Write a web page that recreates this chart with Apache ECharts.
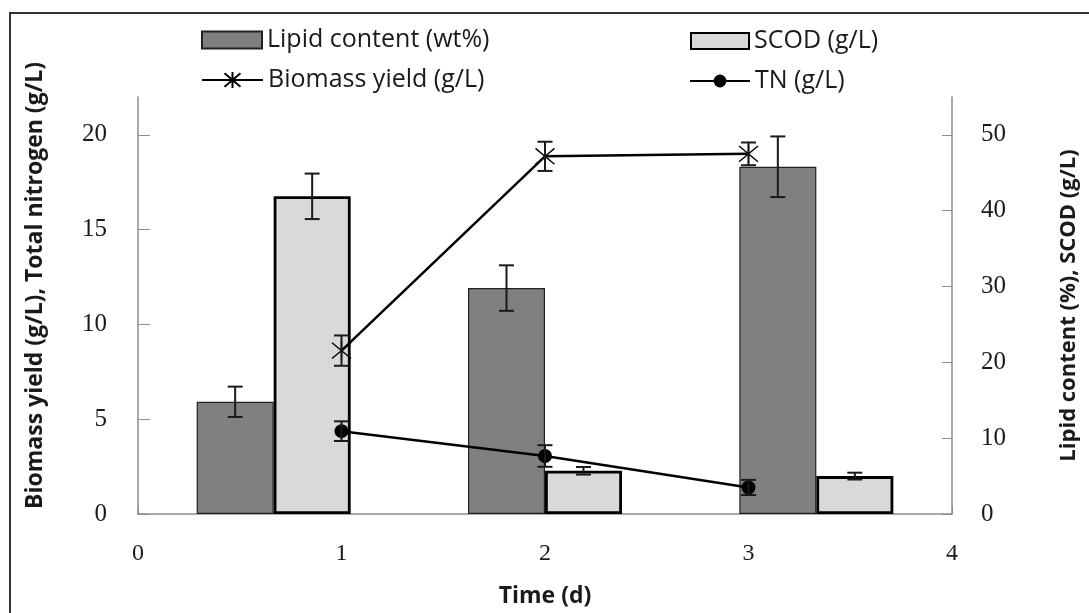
<!DOCTYPE html>
<html>
<head>
<meta charset="utf-8">
<script src="https://cdn.jsdelivr.net/npm/echarts@6/dist/echarts.min.js"></script>
<style>
html,body{margin:0;padding:0;background:#fff;}
#c{width:1089px;height:613px;}
</style>
</head>
<body>
<div id="c"></div>
<script>
// ---- data ----
const days = [1, 2, 3];
const dayCats = ['1', '2', '3'];
const biomass = [8.62, 18.87, 19.0];
const biomassErr = [0.8, 0.77, 0.6];
const tn = [4.37, 3.06, 1.40];
const tnErr = [0.52, 0.57, 0.4];
const lipid = [14.8, 29.8, 45.8];
const lipidErr = [2.0, 3.0, 4.0];
const scod = [41.9, 5.7, 5.0];
const scodErr = [3.0, 0.5, 0.45];
const xTicks = [0, 1, 2, 3, 4];
const leftTicks = [0, 5, 10, 15, 20];
const rightTicks = [0, 10, 20, 30, 40, 50];

// ---- style constants ----
const BAR_W = 77;
const CAP = 7.5;
const ERR_COLOR = '#1a1a1a';
const txt = '#1a1a1a';
const sansFont = 'Open Sans';
const serifFont = 'Liberation Serif';
const asterisk = 'path://M-10,-10L10,10M-10,10L10,-10M0,-12L0,12';

function errItem(x, y1, y2, color) {
  return {
    type: 'group',
    children: [
      {type: 'line', shape: {x1: x, y1: y1, x2: x, y2: y2}, style: {stroke: color, lineWidth: 2}},
      {type: 'line', shape: {x1: x - CAP, y1: y1, x2: x + CAP, y2: y1}, style: {stroke: color, lineWidth: 2}},
      {type: 'line', shape: {x1: x - CAP, y1: y2, x2: x + CAP, y2: y2}, style: {stroke: color, lineWidth: 2}}
    ]
  };
}
function barErrRender(offset) {
  return function (params, api) {
    const c = api.value(0);
    const lo = api.coord([c, api.value(1)]);
    const hi = api.coord([c, api.value(2)]);
    return errItem(lo[0] + offset, lo[1], hi[1], ERR_COLOR);
  };
}
function lineErrRender(params, api) {
  const lo = api.coord([api.value(0), api.value(1)]);
  const hi = api.coord([api.value(0), api.value(2)]);
  return errItem(lo[0], lo[1], hi[1], ERR_COLOR);
}

const chart = echarts.init(document.getElementById('c'), null, {renderer: 'canvas'});
const legendBase = {
  orient: 'horizontal',
  itemGap: 0,
  textStyle: {fontFamily: sansFont, fontSize: 25, lineHeight: 26, color: txt, padding: [0, 0, 0, 0]},
  selectedMode: false,
  padding: 0
};
chart.setOption({
  animation: false,
  backgroundColor: '#fff',
  graphic: [{
    type: 'rect', shape: {x: 10, y: 13, width: 1100, height: 700},
    style: {fill: 'none', stroke: '#333', lineWidth: 2}, silent: true, z: -10
  }],
  legend: [
    Object.assign({}, legendBase, {data: [{name: 'Lipid content (wt%)', icon: 'rect'}], left: 201, top: 27, itemWidth: 60, itemHeight: 17}),
    Object.assign({}, legendBase, {data: ['Biomass yield (g/L)'], left: 201, top: 67, itemWidth: 61, itemHeight: 20}),
    Object.assign({}, legendBase, {data: [{name: 'SCOD (g/L)', icon: 'rect'}], left: 690, top: 28, itemWidth: 58, itemHeight: 16}),
    Object.assign({}, legendBase, {data: ['TN (g/L)'], left: 689, top: 68, itemWidth: 60, itemHeight: 16})
  ],
  grid: {left: 138, right: 137, top: 97, bottom: 96, containLabel: false},
  xAxis: [{
    type: 'value', min: 0, max: 4, interval: 1,
    name: 'Time (d)', nameLocation: 'middle', nameGap: 71,
    nameTextStyle: {fontFamily: sansFont, fontWeight: 'bold', fontSize: 23, color: txt},
    axisLine: {lineStyle: {color: '#8c8c8c', width: 1.5}},
    axisTick: {inside: true, length: 8, lineStyle: {color: '#8c8c8c'}, customValues: xTicks},
    axisLabel: {fontFamily: serifFont, fontSize: 24, color: txt, margin: 28, customValues: xTicks},
    splitLine: {show: false}
  }, {
    type: 'category', data: dayCats, show: false, boundaryGap: true
  }],
  yAxis: [{
    type: 'value', min: 0, max: 22, interval: 5, position: 'left',
    name: 'Biomass yield (g/L), Total nitrogen (g/L)', nameLocation: 'middle', nameRotate: 90, nameGap: 91,
    nameTextStyle: {fontFamily: sansFont, fontWeight: 'bold', fontSize: 23, color: txt, padding: [0, 0, 0, 40]},
    axisLine: {show: true, lineStyle: {color: '#8c8c8c', width: 1.5}},
    axisTick: {show: true, inside: true, length: 12, lineStyle: {color: '#8c8c8c'}, customValues: leftTicks},
    axisLabel: {fontFamily: serifFont, fontSize: 25, color: txt, margin: 31, customValues: leftTicks},
    splitLine: {show: false}
  }, {
    type: 'value', min: 0, max: 55, interval: 10, position: 'right',
    name: 'Lipid content (%), SCOD (g/L)', nameLocation: 'middle', nameRotate: 90, nameGap: 106,
    nameTextStyle: {fontFamily: sansFont, fontWeight: 'bold', fontSize: 22, color: txt},
    axisLine: {show: true, lineStyle: {color: '#8c8c8c', width: 1.5}},
    axisTick: {show: true, inside: true, length: 10, lineStyle: {color: '#8c8c8c'}, customValues: rightTicks},
    axisLabel: {fontFamily: serifFont, fontSize: 25, color: txt, margin: 29, customValues: rightTicks},
    splitLine: {show: false}
  }],
  series: [
    {
      name: 'Lipid content (wt%)', type: 'bar', xAxisIndex: 1, yAxisIndex: 1,
      data: lipid, barWidth: BAR_W, barGap: '0%',
      itemStyle: {color: '#808080', borderColor: '#222', borderWidth: 1.2}
    },
    {
      name: 'SCOD (g/L)', type: 'bar', xAxisIndex: 1, yAxisIndex: 1,
      data: scod, barWidth: BAR_W, barGap: '0%',
      itemStyle: {color: '#d9d9d9', borderColor: '#000', borderWidth: 2.8}
    },
    {
      name: 'lipidErr', type: 'custom', xAxisIndex: 1, yAxisIndex: 1, z: 3,
      renderItem: barErrRender(-BAR_W / 2),
      data: lipid.map((v, i) => [i, v - lipidErr[i], v + lipidErr[i]])
    },
    {
      name: 'scodErr', type: 'custom', xAxisIndex: 1, yAxisIndex: 1, z: 3,
      renderItem: barErrRender(BAR_W / 2),
      data: scod.map((v, i) => [i, v - scodErr[i], v + scodErr[i]])
    },
    {
      name: 'Biomass yield (g/L)', type: 'line', xAxisIndex: 0, yAxisIndex: 0, z: 4,
      data: days.map((d, i) => [d, biomass[i]]),
      symbol: asterisk, symbolSize: 19, showSymbol: true,
      lineStyle: {color: '#000', width: 2.5},
      itemStyle: {color: '#000', borderColor: '#000', borderWidth: 1.4}
    },
    {
      name: 'TN (g/L)', type: 'line', xAxisIndex: 0, yAxisIndex: 0, z: 4,
      data: days.map((d, i) => [d, tn[i]]),
      symbol: 'circle', symbolSize: 14,
      lineStyle: {color: '#000', width: 2.5},
      itemStyle: {color: '#000'}
    },
    {
      name: 'biomassErr', type: 'custom', xAxisIndex: 0, yAxisIndex: 0, z: 5,
      renderItem: lineErrRender,
      data: days.map((d, i) => [d, biomass[i] - biomassErr[i], biomass[i] + biomassErr[i]])
    },
    {
      name: 'tnErr', type: 'custom', xAxisIndex: 0, yAxisIndex: 0, z: 5,
      renderItem: lineErrRender,
      data: days.map((d, i) => [d, tn[i] - tnErr[i], tn[i] + tnErr[i]])
    }
  ]
});
</script>
</body>
</html>
